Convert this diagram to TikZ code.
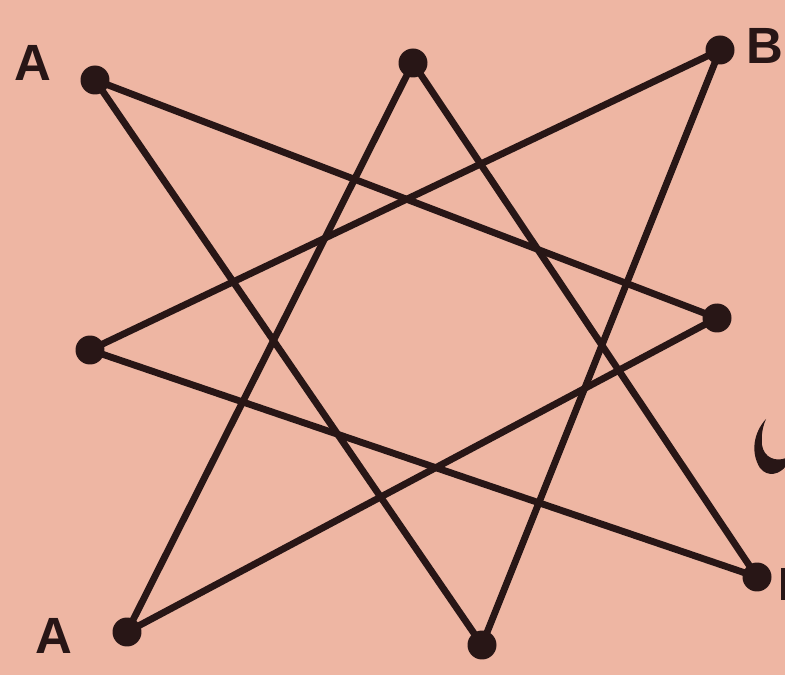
\documentclass[tikz,border=0pt]{standalone}
\usepackage{fontspec}
\setmainfont{Liberation Sans}
\begin{document}
\begin{tikzpicture}[x=0.02cm,y=-0.02cm,
  ink/.style={draw=inkc,line width=3.9pt,line cap=round},
  dot/.style={circle,fill=inkc,inner sep=0pt,minimum size=0.58cm},
  lbl/.style={text=inkc,font=\fontsize{29}{32}\selectfont\bfseries,inner sep=0pt}]
\definecolor{inkc}{RGB}{40,22,22}
\definecolor{paper}{RGB}{238,182,163}
\fill[paper] (0,0) rectangle (785,675);
\useasboundingbox (0,0) rectangle (785,675);
\node[dot] (p1) at (95,80) {};
\node[dot] (p2) at (413,63) {};
\node[dot] (p3) at (720,50) {};
\node[dot] (p4) at (717,318) {};
\node[dot] (p5) at (757,577) {};
\node[dot] (p6) at (482,645) {};
\node[dot] (p7) at (127,632) {};
\node[dot] (p8) at (90,350) {};
\draw[ink] (p1.center) -- (p4.center);
\draw[ink] (p1.center) -- (p6.center);
\draw[ink] (p2.center) -- (p7.center);
\draw[ink] (p2.center) -- (p5.center);
\draw[ink] (p3.center) -- (p8.center);
\draw[ink] (p3.center) -- (p6.center);
\draw[ink] (p4.center) -- (p7.center);
\draw[ink] (p8.center) -- (p5.center);
\node[lbl] (la1) at (33,63) {A};
\node[lbl] (lb) at (765,46) {B};
\node[lbl] (la2) at (54,636) {A};
\fill[inkc] (766,419) .. controls (754,432) and (750,452) .. (760,468)
  .. controls (768,478) and (780,474) .. (786,466) -- (786,458)
  .. controls (776,462) and (764,458) .. (762,445)
  .. controls (761,434) and (763,426) .. (766,419) -- cycle;
\fill[inkc] (786,568) rectangle (781,600);
\end{tikzpicture}
\end{document}
